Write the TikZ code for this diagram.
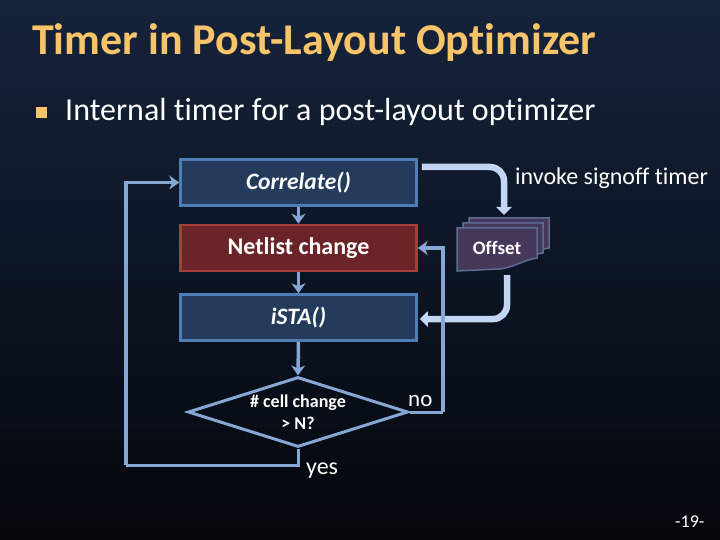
\documentclass[tikz,border=0pt]{standalone}
\usepackage{fontspec}
\setmainfont{Carlito}[Ligatures=NoCommon]
\usetikzlibrary{arrows.meta,calc,shapes.geometric}
\definecolor{bgtop}{HTML}{15233B}
\definecolor{bgmid}{HTML}{0E182A}
\definecolor{bgbot}{HTML}{04070C}
\definecolor{titlec}{HTML}{F8C46A}
\definecolor{boxfill}{HTML}{243B5C}
\definecolor{boxline}{HTML}{4F7DB5}
\definecolor{redfill}{HTML}{6A2427}
\definecolor{redline}{HTML}{A83E3B}
\definecolor{conn}{HTML}{86A6D4}
\definecolor{bigarr}{HTML}{C2D6F4}
\definecolor{docfill}{HTML}{46385B}
\definecolor{docline}{HTML}{5C6B93}
\tikzset{
  bluebox/.style={draw=boxline,fill=boxfill,line width=2.5pt,minimum width=236pt,minimum height=46pt,inner sep=0pt,text=white,font=\fontsize{23.5}{26}\selectfont\bfseries\itshape},
  redbox/.style={bluebox,draw=redline,fill=redfill,font=\fontsize{24}{26}\selectfont\bfseries},
  conn/.style={draw=conn,line width=3.5pt,-{Stealth[length=10pt,width=14pt,inset=3pt]}},
  connline/.style={draw=conn,line width=3pt},
  bigarrow/.style={draw=bigarr,line width=6.5pt,rounded corners=14pt,-{Triangle[length=8pt,width=15pt]}},
  docstyle/.style={draw=docline,fill=docfill,line width=1.5pt},
  lbl/.style={text=white,inner sep=0pt},
  docpage/.pic={\draw[docstyle] (0,0) -- (80,0) -- (80,30) .. controls (66,32) and (56,40) .. (42,41) -- (0,43) -- cycle;}
}
\begin{document}
\begin{tikzpicture}[x=1pt,y=-1pt]
\useasboundingbox (0,0) rectangle (720,540);
\shade[top color=bgtop,middle color=bgmid,bottom color=bgbot] (0,0) rectangle (720,540);
% title and bullet
\node[anchor=base west,inner sep=0pt,text=titlec,font=\fontsize{44}{48}\selectfont\bfseries] (title) at (32,55) {Timer in Post-Layout Optimizer};
\node[fill=titlec,minimum size=11pt,inner sep=0pt] (bullet) at (41,113) {};
\node[anchor=base west,lbl,font=\fontsize{32}{36}\selectfont] (btext) at (65,121) {Internal timer for a post-layout optimizer};
% boxes
\node[bluebox] (corr) at (298.5,182.5) {Correlate()};
\node[redbox] (net) at (298.5,248) {Netlist change};
\node[bluebox] (ista) at (298.5,317.5) {iSTA()};
\node[draw=conn,line width=3pt,shape=diamond,minimum width=220pt,minimum height=70pt,inner sep=0pt,aspect=3.14,text=white,align=center,font=\fontsize{18}{22}\selectfont\bfseries] (dia) at (298,412) {\# cell change\\> N?};
% short arrows
\draw[conn] (corr.south) -- (net.north);
\draw[conn] (net.south) -- (ista.north);
\draw[conn] (ista.south) -- (dia.north);
% offset documents
\pic at (469,218) {docpage};
\pic at (463,223) {docpage};
\pic at (457,228) {docpage};
\node[lbl,font=\fontsize{19}{22}\selectfont\bfseries] (offs) at (497,248) {Offset};
\coordinate (offtop) at (504,215);
\coordinate (offbot) at (507,275);
% big arrows
\draw[bigarrow] ($(corr.east)+(4,-15.5)$) -| (offtop);
\draw[bigarrow] (offbot) |- ($(ista.east)+(2,1.5)$);
% no branch
\coordinate (nocorner) at (443,412);
\draw[connline] (dia.east) -- (nocorner);
\draw[conn] (nocorner) |- (net.east);
% yes branch
\coordinate (yescorner) at (126,465);
\draw[connline] (dia.south) |- (yescorner);
\draw[conn] (yescorner) |- (corr.west);
% labels
\node[anchor=base west,lbl,font=\fontsize{24}{28}\selectfont] (inv) at (515,185) {invoke signoff timer};
\node[anchor=base west,lbl,font=\fontsize{23}{26}\selectfont] (no) at (408,406) {no};
\node[anchor=base west,lbl,font=\fontsize{24}{28}\selectfont] (yes) at (306,474) {yes};
\node[anchor=base west,lbl,font=\fontsize{18}{20}\selectfont] (page) at (675,527) {-19-};
\end{tikzpicture}
\end{document}
